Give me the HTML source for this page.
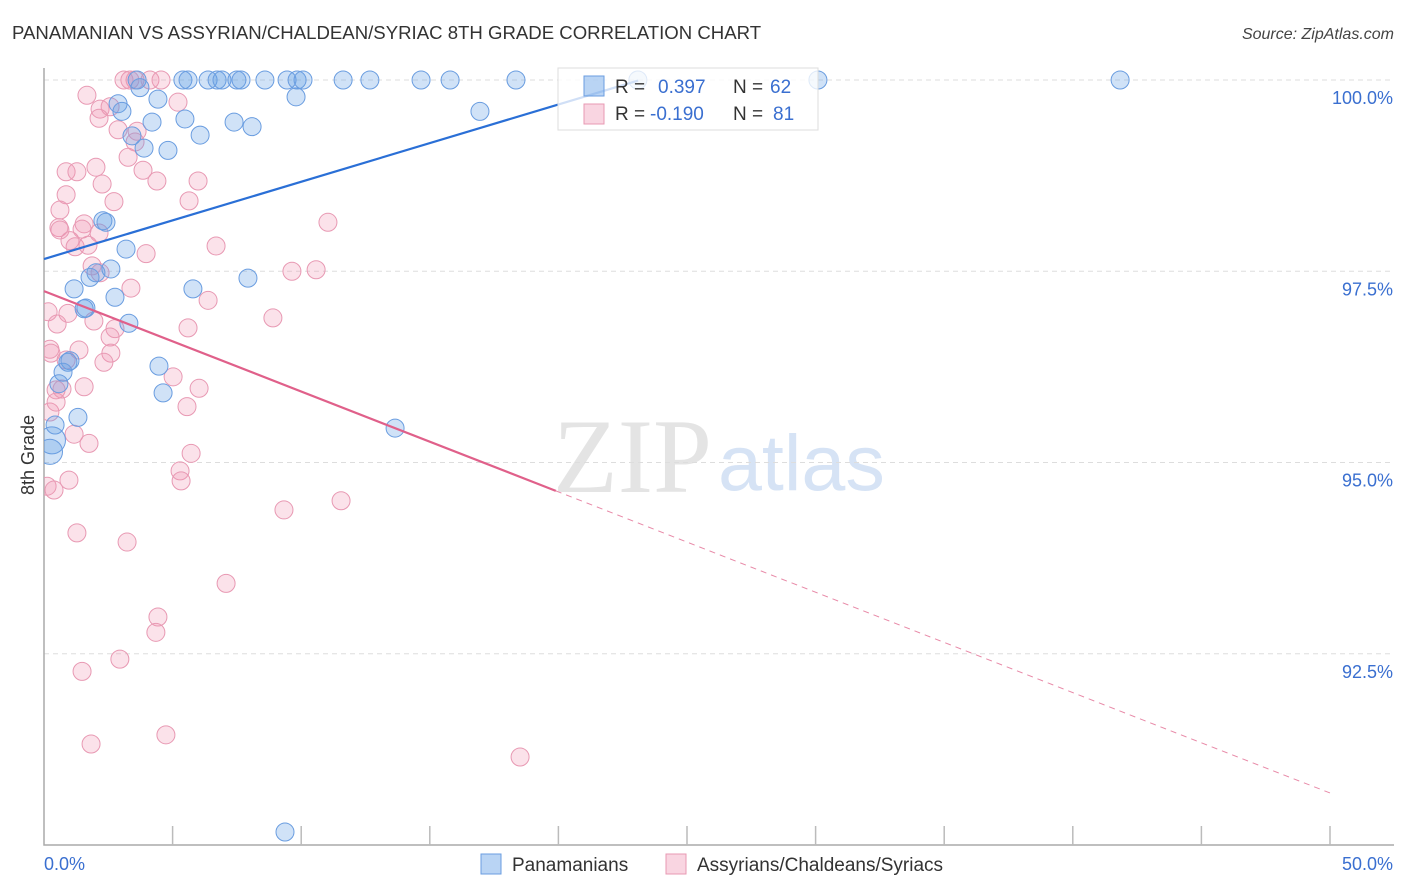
<!DOCTYPE html>
<html><head><meta charset="utf-8"><style>
body{margin:0;background:#fff;font-family:"Liberation Sans",sans-serif}
svg{display:block}
</style></head><body>
<svg id="chart" width="1406" height="892" viewBox="0 0 1406 892" xmlns="http://www.w3.org/2000/svg">
<text x="12" y="39" font-size="18.6" fill="#333" font-family="Liberation Sans, sans-serif">PANAMANIAN VS ASSYRIAN/CHALDEAN/SYRIAC 8TH GRADE CORRELATION CHART</text>
<text x="1394" y="39" font-size="16" fill="#444" text-anchor="end" font-style="italic">Source: ZipAtlas.com</text>
<g>
<text x="553" y="492" font-size="106" fill="#e4e4e4" font-family="Liberation Serif, serif">ZIP</text>
<text x="718" y="490" font-size="79" fill="#d6e3f5" font-family="Liberation Sans, sans-serif">atlas</text>
</g>
<g id="grid"></g>
<g id="axes"></g>
<defs><clipPath id="plotclip"><rect x="44" y="60" width="1362" height="786"/></clipPath></defs>
<g id="marks" clip-path="url(#plotclip)"></g>
<g id="trends"></g>
<text transform="translate(34,455) rotate(-90)" text-anchor="middle" font-size="18" fill="#333">8th Grade</text>
<g>
<rect x="558" y="68" width="260" height="62" fill="rgba(255,255,255,0.78)" stroke="#ddd"/>
<rect x="584" y="76" width="20" height="20" fill="rgba(100,160,230,0.45)" stroke="#6a9de0"/>
<text x="615" y="93" font-size="19" fill="#333">R = </text><text x="658" y="93" font-size="19" fill="#3a6fd0">0.397</text>
<text x="733" y="93" font-size="19" fill="#333">N = </text><text x="770" y="93" font-size="19" fill="#3a6fd0">62</text>
<rect x="584" y="104" width="20" height="20" fill="rgba(240,150,180,0.4)" stroke="#e899b3"/>
<text x="615" y="120" font-size="19" fill="#333">R = </text><text x="650" y="120" font-size="19" fill="#3a6fd0">-0.190</text>
<text x="733" y="120" font-size="19" fill="#333">N = </text><text x="773" y="120" font-size="19" fill="#3a6fd0">81</text>
</g>
<g>
<rect x="481" y="854" width="20" height="20" fill="rgba(100,160,230,0.45)" stroke="#6a9de0"/>
<text x="512" y="871" font-size="19" fill="#333">Panamanians</text>
<rect x="666" y="854" width="20" height="20" fill="rgba(240,150,180,0.4)" stroke="#e899b3"/>
<text x="697" y="871" font-size="19" fill="#333">Assyrians/Chaldeans/Syriacs</text>
</g>
</svg>
<script>
const yTicks=[100,97.5,95,92.5];
const yTickLabels=["100.0%","97.5%","95.0%","92.5%"];
const xTickValues=[0,5,10,15,20,25,30,35,40,45,50];
const xEndLabels=["0.0%","50.0%"];
const blueX=[3.62,5.40,5.60,6.38,6.73,6.92,7.50,7.66,8.59,9.45,9.84,10.07,11.63,12.67,14.66,15.79,18.35,23.09,30.09,41.84,3.73,2.88,4.43,9.80,16.95,3.03,4.20,5.48,7.39,8.09,6.07,3.42,3.89,4.82,2.29,2.41,3.19,2.60,2.02,1.79,1.17,5.79,7.93,2.76,1.56,1.63,3.30,4.47,1.01,0.93,0.74,0.58,4.63,1.32,0.43,13.65,0.31,0.23,9.37];
const blueY=[100,100,100,100,100,100,100,100,100,100,100,100,100,100,100,100,100,100,100,100,99.90,99.69,99.75,99.78,99.59,99.59,99.45,99.49,99.45,99.39,99.28,99.27,99.11,99.08,98.16,98.14,97.79,97.53,97.48,97.42,97.27,97.27,97.41,97.16,97.01,97.02,96.82,96.26,96.33,96.31,96.18,96.03,95.91,95.59,95.49,95.45,95.29,95.14,90.17];
const blueSize=[1,1,1,1,1,1,1,1,1,1,1,1,1,1,1,1,1,1,1,1,1,1,1,1,1,1,1,1,1,1,1,1,1,1,1,1,1,1,1,1,1,1,1,1,1,1,1,1,1,1,1,1,1,1,1,1,1.5,1.4,1];
const pinkX=[3.11,3.34,3.54,4.12,4.55,1.67,2.18,2.57,2.14,2.88,3.62,3.54,3.27,3.85,4.39,5.21,0.86,2.02,2.26,2.72,5.64,5.99,1.28,0.86,0.62,0.58,0.62,1.01,1.21,1.56,1.48,1.71,2.14,1.87,2.18,3.97,6.69,3.38,6.38,9.64,10.58,11.04,8.90,0.16,0.51,0.93,1.94,2.76,5.60,2.57,2.60,2.33,1.36,0.23,0.27,0.86,5.02,6.03,0.47,0.70,1.56,5.56,0.23,0.47,1.17,1.75,5.72,5.29,5.33,0.97,0.12,0.39,9.33,11.55,1.28,3.23,7.08,4.43,4.35,2.95,1.48,4.74,1.83,18.51];
const pinkY=[100,100,100,100,100,99.80,99.62,99.65,99.50,99.35,99.33,99.19,98.99,98.82,98.68,99.71,98.80,98.86,98.64,98.41,98.42,98.68,98.80,98.50,98.30,98.07,98.04,97.90,97.82,98.12,98.05,97.84,98.00,97.57,97.48,97.73,97.83,97.28,97.12,97.50,97.52,98.14,96.89,96.97,96.81,96.95,96.85,96.75,96.76,96.64,96.43,96.31,96.47,96.48,96.43,96.34,96.12,95.97,95.95,95.96,95.99,95.73,95.66,95.79,95.37,95.25,95.12,94.89,94.76,94.77,94.69,94.64,94.38,94.50,94.08,93.96,93.42,92.98,92.78,92.43,92.27,91.44,91.32,91.15];
const blueTrend=[97.66,0.101];
const pinkTrend=[97.24,-0.1312];
const blueTrendRange=[0,23.1];
const pinkSolidRange=[0,19.9];
const pinkDashRange=[19.9,50];

const NS="http://www.w3.org/2000/svg";
const X0=44,X1=1330,Y100=80,PXPER=76.5;
const xs=v=>X0+(v/50)*(X1-X0);
const ys=v=>Y100+(100-v)*PXPER;
function mk(tag,attrs,parent){const e=document.createElementNS(NS,tag);for(const k in attrs)e.setAttribute(k,attrs[k]);parent.appendChild(e);return e;}
const grid=document.getElementById('grid'),axes=document.getElementById('axes'),marks=document.getElementById('marks'),trends=document.getElementById('trends');
yTicks.forEach((t,i)=>{
 const l=mk('line',{x1:X0,x2:1394,y1:ys(t),y2:ys(t),stroke:'#ddd','stroke-dasharray':'5,4'},grid);
 
 
 const tx=mk('text',{x:1393,y:ys(t)+24,'text-anchor':'end','font-size':18,fill:'#3a6fd0'},axes);
 tx.textContent=yTickLabels[i];
 
 
});
const ax=mk('path',{d:`M${X0},68V845H1394`,fill:'none',stroke:'#aaa','stroke-width':1.5},axes);


xTickValues.forEach(v=>{
 if(v===0)return;
 const t=mk('line',{x1:xs(v),x2:xs(v),y1:826,y2:845,stroke:'#bbb','stroke-width':1.5},axes);
 
 
});
const xl0=mk('text',{x:44,y:870,'font-size':18,fill:'#3a6fd0'},axes);xl0.textContent=xEndLabels[0];


const xl1=mk('text',{x:1393,y:870,'font-size':18,fill:'#3a6fd0','text-anchor':'end'},axes);xl1.textContent=xEndLabels[1];



pinkX.forEach((x,i)=>{
 const c=mk('circle',{cx:xs(x),cy:ys(pinkY[i]),r:9,fill:'rgba(240,150,180,0.28)',stroke:'#e899b3','stroke-width':1},marks);
 
 
});
blueX.forEach((x,i)=>{
 const c=mk('circle',{cx:xs(x),cy:ys(blueY[i]),r:9*blueSize[i],fill:'rgba(100,160,230,0.3)',stroke:'#6a9de0','stroke-width':1},marks);
 
 
});
function tl(tr,range,attrs,name){
 const l=mk('line',Object.assign({x1:xs(range[0]),y1:ys(tr[0]+tr[1]*range[0]),x2:xs(range[1]),y2:ys(tr[0]+tr[1]*range[1])},attrs),trends);
 
 
}
tl(blueTrend,blueTrendRange,{stroke:'#2a6fd6','stroke-width':2.2},'panamanian-trendline');
tl(pinkTrend,pinkSolidRange,{stroke:'#e0608a','stroke-width':2.2},'assyrian-trendline');
tl(pinkTrend,pinkDashRange,{stroke:'#e88aa8','stroke-width':1,'stroke-dasharray':'6,5'},'assyrian-trendline-extension');
</script>
</body></html>
